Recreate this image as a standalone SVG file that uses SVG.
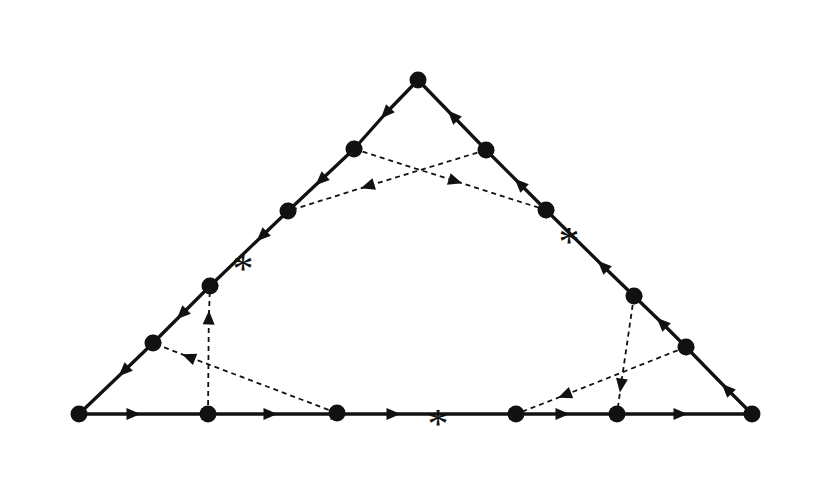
<svg xmlns="http://www.w3.org/2000/svg" width="832" height="496" viewBox="0 0 832 496">
<defs>
<marker id="ar" markerUnits="userSpaceOnUse" markerWidth="20" markerHeight="20" viewBox="-10 -10 20 20" refX="0" refY="0" orient="auto">
<path d="M7.5,0 L-6.5,-6 L-6.5,6 Z" fill="#111"/>
</marker>
</defs>
<style>
.side{fill:none;stroke:#111;stroke-width:3.3;stroke-linejoin:round;marker-mid:url(#ar)}
.dash{fill:none;stroke:#111;stroke-width:1.8;stroke-dasharray:5 4;marker-mid:url(#ar)}
.dot{fill:#111}
.star{font-family:"Liberation Serif",serif;font-size:42px;fill:#111;text-anchor:middle}
</style>
<rect width="832" height="496" fill="#fff"/>
<g id="connectors">
<path class="side" d="M418,80 L386,113 L354,149 L321,180 L288,211 L262,236 L210,286 L182,314 L153,343 L124,371 L79,414"/>
<path class="side" d="M79,414 L133,414 L208,414 L270,414 L337,414 L393,414 L516,414 L562,414 L617,414 L680,414 L752,414"/>
<path class="side" d="M752,414 L727,389 L686,347 L662,323 L634,296 L603,266 L546,210 L520,184 L486,150 L453,116 L418,80"/>
<path class="dash" d="M354,149 L455,181 L546,210"/>
<path class="dash" d="M486,150 L368,186 L288,211"/>
<path class="dash" d="M208,414 L208.8,318 L210,286"/>
<path class="dash" d="M337,413 L189,357 L153,343"/>
<path class="dash" d="M634,296 L621,385 L617,414"/>
<path class="dash" d="M686,347 L565,395 L516,414"/>
</g>
<g id="nodes">
<g id="T"><circle class="dot" cx="418" cy="80" r="8.5"/></g>
<g id="L"><circle class="dot" cx="79" cy="414" r="8.5"/></g>
<g id="R"><circle class="dot" cx="752" cy="414" r="8.5"/></g>
<g id="A1"><circle class="dot" cx="354" cy="149" r="8.5"/></g>
<g id="A2"><circle class="dot" cx="288" cy="211" r="8.5"/></g>
<g id="A3"><circle class="dot" cx="210" cy="286" r="8.5"/></g>
<g id="A4"><circle class="dot" cx="153" cy="343" r="8.5"/></g>
<g id="B1"><circle class="dot" cx="486" cy="150" r="8.5"/></g>
<g id="B2"><circle class="dot" cx="546" cy="210" r="8.5"/></g>
<g id="B3"><circle class="dot" cx="634" cy="296" r="8.5"/></g>
<g id="B4"><circle class="dot" cx="686" cy="347" r="8.5"/></g>
<g id="C1"><circle class="dot" cx="208" cy="414" r="8.5"/></g>
<g id="C2"><circle class="dot" cx="337" cy="413" r="8.5"/></g>
<g id="C3"><circle class="dot" cx="516" cy="414" r="8.5"/></g>
<g id="C4"><circle class="dot" cx="617" cy="414" r="8.5"/></g>
</g>
<g id="marks">
<text class="star" x="243" y="283">*</text>
<text class="star" x="569" y="256">*</text>
<text class="star" x="438" y="438">*</text>
</g>
</svg>
